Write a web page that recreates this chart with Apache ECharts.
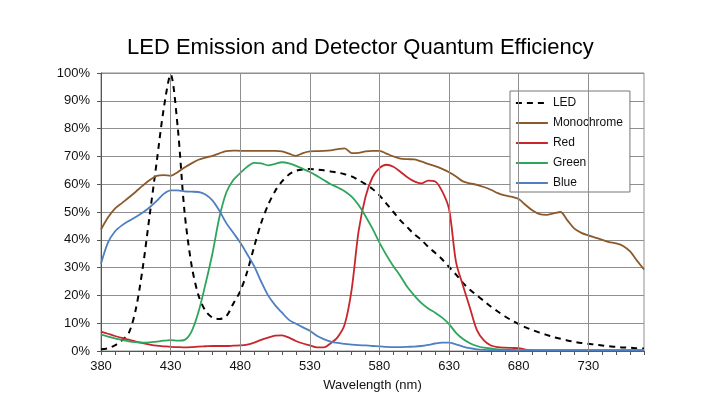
<!DOCTYPE html>
<html><head><meta charset="utf-8">
<script src="https://cdn.jsdelivr.net/npm/echarts@6/dist/echarts.min.js"></script>
<style>html,body{margin:0;padding:0;background:#fff}#c{width:720px;height:405px}</style>
</head><body><div id="c"></div>
<script>
const wavelengths = [380,385,390,395,400,405,410,415,420,425,430,435,440,445,450,455,460,465,470,475,
  480,485,490,495,500,505,510,515,520,525,530,535,540,545,550,555,560,565,570,575,
  580,585,590,595,600,605,610,615,620,625,630,635,640,645,650,655,660,665,670,675,
  680,685,690,695,700,705,710,715,720,725,730,735,740,745,750,755,760,765,770];

const led = [0.6,1,2,3.8,6.5,15,30,49,68,87,99.5,81,50,31,20,14.5,12,11.5,12.5,17,
  21.5,28.5,37.5,46,52.5,57.5,61,63.5,64.8,65.3,65.5,65.3,65,64.6,64.2,63.6,62.8,61.5,60,58.3,
  56,53,50,47,44.5,42,40,37.5,35.3,33,30.2,27.5,24.5,22,20,18,16,14.2,12.5,11,
  9.7,8.5,7.5,6.6,5.8,5,4.4,3.8,3.3,2.9,2.6,2.3,2,1.7,1.5,1.3,1.2,1,0.9];

const monochrome = [43.7,48,51.2,53.2,55.2,57.3,59.5,61.5,63,63.3,63,64.3,66,67.5,68.8,69.6,70.2,71.1,71.9,72.1,
  72,72,72,72,72,72,71.8,71,70.2,71.2,71.8,71.9,72,72.2,72.6,72.9,71.2,71.3,71.8,72,
  72,71,70,69.2,69,68.9,68.2,67.3,66.5,65.5,64.3,62.8,61,60.3,59.8,59,58,56.8,56,55.5,
  54.7,52.5,50.5,49.2,49,49.5,50,47,44,42.5,41.6,40.8,40,39.2,38.7,37.8,35.8,32.5,29.3];

const red = [7,6.2,5.4,4.7,4.1,3.4,2.8,2.3,1.9,1.7,1.5,1.4,1.3,1.4,1.6,1.7,1.8,1.8,1.8,1.9,
  2,2.3,3,4,4.8,5.5,5.6,4.8,3.6,2.7,2,1.3,1.3,2.8,5,9.5,22,43,55.5,62.5,
  65.8,67,66.3,64.5,62.5,61,60.3,61.3,61,57.5,51,32,23.5,15.5,7.5,3.8,2,1.4,1.2,1.1,
  1,0.5,0.2,0.1,0.1,0.1,0.1,0.1,0.1,0.1,0.1,0.1,0.1,0.1,0.1,0.1,0.1,0.1,0.1];

const green = [5.9,5.2,4.5,4,3.5,3.2,3,3.1,3.4,3.7,3.9,3.7,4,7,14,24,35,48,57,61.5,
  64,66.3,67.7,67.5,66.8,67.3,67.9,67.5,66.6,65.5,64.4,63,61.5,60,58.8,57.5,55.5,52.5,48.5,44,
  39,34.5,30.5,27,23,20,17.3,15.3,13.8,12,9.7,6.5,4.3,2.8,1.8,1.2,0.9,0.6,0.5,0.4,
  0.3,0.3,0.3,0.3,0.3,0.3,0.3,0.3,0.3,0.3,0.3,0.3,0.3,0.3,0.3,0.3,0.3,0.3,0.3];

const blue = [31.4,39,43,45.2,46.8,48.2,49.8,51.7,54,56.5,57.8,57.8,57.4,57.3,57.2,56.3,54.2,50.5,46,42.5,
  39,34.8,30.5,25,20,16.5,13.8,11.2,9.8,8.5,7.3,5.5,4.3,3.4,2.9,2.6,2.3,2.1,2,1.8,
  1.7,1.5,1.4,1.4,1.5,1.6,1.8,2.2,2.7,3,3,2.4,1.6,1,0.6,0.4,0.3,0.2,0.2,0.2,
  0.2,0.2,0.2,0.2,0.2,0.2,0.2,0.2,0.2,0.2,0.2,0.2,0.2,0.2,0.2,0.2,0.2,0.2,0.2];

const xTickLabels = [380,430,480,530,580,630,680,730];
const seriesNames = ['LED','Monochrome','Red','Green','Blue'];
const seriesColors = ['#000000','#8B5A2B','#C8262C','#2EA55C','#4E7FC0'];

const font = "'Liberation Sans', Arial, sans-serif";
const gridColor = '#8f8f8f';
const axisColor = '#555555';
const pairs = arr => wavelengths.map((w, i) => [w, arr[i]]);

const chart = echarts.init(document.getElementById('c'));
const valueSets = [led, monochrome, red, green, blue];

const lineSeries = valueSets.map((vals, i) => ({
  name: seriesNames[i],
  type: 'line',
  data: pairs(vals),
  showSymbol: false,
  symbol: 'none',
  smooth: 0.3,
  z: 3,
  itemStyle: { color: seriesColors[i] },
  lineStyle: { color: seriesColors[i], width: i === 0 ? 2 : 1.8, type: i === 0 ? [6, 5] : 'solid' }
}));

chart.setOption({
  animation: false,
  backgroundColor: '#ffffff',
  textStyle: { fontFamily: font },
  title: {
    text: 'LED Emission and Detector Quantum Efficiency',
    left: 122, top: 32,
    textStyle: { fontFamily: font, fontSize: 22, fontWeight: 'normal', color: '#000' }
  },
  grid: { left: 101, right: 76, top: 73, bottom: 54, show: true, borderColor: gridColor, borderWidth: 1 },
  legend: {
    data: seriesNames,
    orient: 'vertical', left: 510, top: 91,
    itemWidth: 32, itemHeight: 14, itemGap: 8,
    padding: [6, 7, 3, 5],
    backgroundColor: '#fff', borderColor: '#777', borderWidth: 1,
    itemStyle: { opacity: 0 },
    lineStyle: { width: 1.8 },
    textStyle: { fontFamily: font, fontSize: 12, color: '#111' }
  },
  xAxis: {
    type: 'value', min: 380, max: 770, interval: 10,
    axisLine: { lineStyle: { color: axisColor, width: 1 } },
    axisTick: { show: true, length: 4, lineStyle: { color: axisColor } },
    axisLabel: {
      formatter: v => xTickLabels.includes(Math.round(v)) ? String(Math.round(v)) : '',
      fontFamily: font, fontSize: 13, color: '#111', margin: 9
    },
    splitLine: { show: false },
    name: 'Wavelength (nm)', nameLocation: 'middle', nameGap: 28,
    nameTextStyle: { fontFamily: font, fontSize: 13, color: '#111' }
  },
  yAxis: {
    type: 'value', min: 0, max: 100, interval: 10,
    axisLine: { show: true, lineStyle: { color: axisColor, width: 1 } },
    axisTick: { show: true, length: 4, lineStyle: { color: axisColor } },
    axisLabel: { formatter: '{value}%', fontFamily: font, fontSize: 13, color: '#111', margin: 11 },
    splitLine: { lineStyle: { color: gridColor, width: 1 } }
  },
  series: [{
    name: 'grid', type: 'line', data: [], z: 1, silent: true,
    markLine: {
      silent: true, symbol: ['none', 'none'], label: { show: false },
      lineStyle: { color: gridColor, type: 'solid', width: 1 },
      data: xTickLabels.filter(v => v > 380).map(v => ({ xAxis: v }))
    }
  }].concat(lineSeries)
});
</script>
</body></html>
